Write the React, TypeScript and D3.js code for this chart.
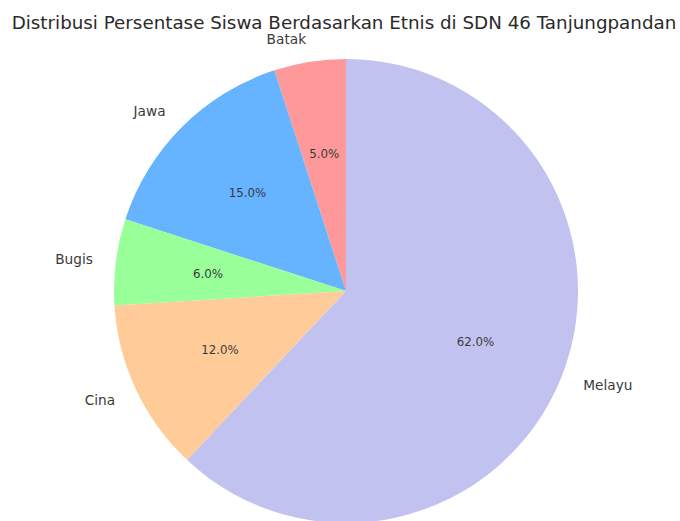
import React from "react";
import * as d3 from "d3";

// slices in drawing order (counter-clockwise from 12 o'clock)
const etnis = ["Batak", "Jawa", "Bugis", "Cina", "Melayu"];
const persen = [5, 15, 6, 12, 62];
const warna = ["#ff9999", "#66b3ff", "#99ff99", "#ffcc99", "#c2c2f0"];
const judul = "Distribusi Persentase Siswa Berdasarkan Etnis di SDN 46 Tanjungpandan";

const width = 680;
const height = 521;
const cx = 346;
const cy = 291;
const radius = 232;

export default function App() {
  const data = etnis.map((name, i) => ({ name, value: persen[i], color: warna[i] }));
  const total = d3.sum(persen);

  const pieLayout = d3
    .pie<{ name: string; value: number; color: string }>()
    .value((d) => d.value)
    .sort(null)
    .startAngle(0)
    .endAngle(-2 * Math.PI);

  const arcs = pieLayout(data);
  const arcGen = d3.arc<any>().innerRadius(0).outerRadius(radius);
  const labelArc = d3.arc<any>().innerRadius(radius * 1.1).outerRadius(radius * 1.1);
  const pctArc = d3.arc<any>().innerRadius(radius * 0.6).outerRadius(radius * 0.6);

  return (
    <svg
      width={width}
      height={height}
      style={{ position: "absolute", left: 0, top: 0, background: "#fff" }}
      fontFamily="DejaVu Sans, sans-serif"
    >
      <text x={344} y={22} textAnchor="middle" dominantBaseline="central" fontSize={18.3} fill="#2a2a2a">
        {judul}
      </text>
      <g transform={`translate(${cx},${cy})`}>
        {arcs.map((d, i) => (
          <path key={`s-${i}`} d={arcGen(d) || undefined} fill={d.data.color} />
        ))}
        {arcs.map((d, i) => {
          const [lx, ly] = labelArc.centroid(d);
          const [px, py] = pctArc.centroid(d);
          return (
            <g key={`t-${i}`}>
              <text
                x={lx}
                y={ly}
                textAnchor={lx < 0 ? "end" : "start"}
                dominantBaseline="central"
                fontSize={13.7}
                fill="#3a3a3a"
              >
                {d.data.name}
              </text>
              <text x={px} y={py} textAnchor="middle" dominantBaseline="central" fontSize={11.8} fill="#3a3a3a">
                {((d.data.value / total) * 100).toFixed(1)}%
              </text>
            </g>
          );
        })}
      </g>
    </svg>
  );
}
